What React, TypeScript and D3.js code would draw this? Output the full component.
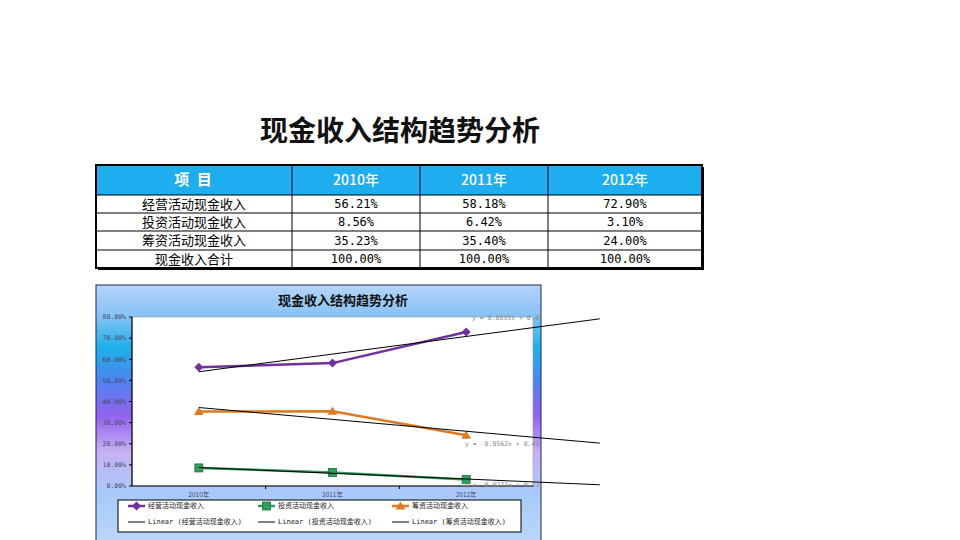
import React from 'react'
import * as d3 from 'd3'

const years = ['2010年', '2011年', '2012年']
const rowNames = ['经营活动现金收入', '投资活动现金收入', '筹资活动现金收入', '现金收入合计']
const operating = [56.21, 58.18, 72.9]
const investing = [8.56, 6.42, 3.1]
const financing = [35.23, 35.4, 24.0]
const totals = [100, 100, 100]
const yTicks = [0, 10, 20, 30, 40, 50, 60, 70, 80]

// trendline coefficients as printed on the chart (x = 1, 2, 3 ...)
const trendSlopes = [0.0835, -0.0273, -0.0562]
const trendIntercepts = [0.4574, 0.1149, 0.4277]
const trendLabels = ['y = 0.0835x + 0.4574', 'y = -0.0273x + 0.1149', 'y = -0.0562x + 0.4277']

const seriesNames = ['经营活动现金收入', '投资活动现金收入', '筹资活动现金收入']
const seriesColors = ['#7030a0', '#2f9e5b', '#dd7a22']

const CJK = '"Noto Sans CJK SC", "DejaVu Sans", sans-serif'
const MONO = '"DejaVu Sans Mono", "Noto Sans CJK SC", monospace'

function Marker({ kind, x, y, color }: { kind: number; x: number; y: number; color: string }) {
  if (kind === 0) {
    const s = 4.5
    return <path d={`M${x},${y - s}L${x + s},${y}L${x},${y + s}L${x - s},${y}Z`} fill={color} />
  }
  if (kind === 1) {
    return <rect x={x - 4} y={y - 4} width={8} height={8} fill={color} stroke="#1f6e3c" strokeWidth={0.8} />
  }
  return <path d={`M${x},${y - 4.5}L${x + 5},${y + 3.5}L${x - 5},${y + 3.5}Z`} fill={color} />
}

function Table() {
  const cols = [96, 292, 420, 548, 702]
  const rows = [165, 195, 213, 231, 250, 268]
  const data = [operating, investing, financing, totals]
  const fmt = (v: number) => v.toFixed(2) + '%'
  return (
    <g>
      <rect x={cols[0] + 2} y={rows[0] + 2} width={cols[4] - cols[0]} height={rows[5] - rows[0]} fill="#000" />
      <rect x={cols[0]} y={rows[0]} width={cols[4] - cols[0]} height={rows[1] - rows[0]} fill="#1eaef0" />
      <rect x={cols[0]} y={rows[1]} width={cols[4] - cols[0]} height={rows[5] - rows[1]} fill="#fff" />
      {rows.slice(1, 5).map((r) => (
        <line key={r} x1={cols[0]} x2={cols[4]} y1={r} y2={r} stroke="#000" strokeWidth={1} />
      ))}
      {cols.slice(1, 4).map((c) => (
        <line key={c} x1={c} x2={c} y1={rows[0]} y2={rows[5]} stroke="#000" strokeWidth={1} />
      ))}
      <rect x={cols[0]} y={rows[0]} width={cols[4] - cols[0]} height={rows[5] - rows[0]} fill="none" stroke="#000" strokeWidth={2} />
      <text x={(cols[0] + cols[1]) / 2} y={(rows[0] + rows[1]) / 2} dy="0.36em" textAnchor="middle" fill="#fff" fontFamily={CJK} fontWeight="bold" fontSize={15} letterSpacing={2}>
        项 目
      </text>
      {years.map((yr, i) => (
        <text key={yr} x={(cols[i + 1] + cols[i + 2]) / 2} y={(rows[0] + rows[1]) / 2} dy="0.36em" textAnchor="middle" fill="#fff" fontFamily={CJK} fontWeight={500} fontSize={14}>
          {yr}
        </text>
      ))}
      {rowNames.map((name, r) => (
        <g key={name}>
          <text x={(cols[0] + cols[1]) / 2} y={(rows[r + 1] + rows[r + 2]) / 2} dy="0.36em" textAnchor="middle" fontFamily={CJK} fontSize={13} fill="#000">
            {name}
          </text>
          {data[r].map((v, i) => (
            <text key={i} x={(cols[i + 1] + cols[i + 2]) / 2} y={(rows[r + 1] + rows[r + 2]) / 2} dy="0.36em" textAnchor="middle" fontFamily={MONO} fontSize={12} fill="#000">
              {fmt(v)}
            </text>
          ))}
        </g>
      ))}
    </g>
  )
}

function Chart() {
  const frame = { x: 96, y: 285, w: 445, h: 262 }
  const plot = { left: 132, right: 533, top: 317, bottom: 486 }
  const x = d3.scaleBand<string>().domain(years).range([plot.left, plot.right])
  const bw = x.bandwidth()
  const cx = (i: number) => (x(years[0]) as number) + bw / 2 + (i - 1) * bw
  const y = d3.scaleLinear().domain([0, 80]).range([plot.bottom, plot.top])
  const all = [operating, investing, financing]
  const line = d3
    .line<number>()
    .x((_, i) => cx(i + 1))
    .y((d) => y(d))
  const trendX = [1, 4]
  const labelPos = [
    { x: 472, y: 318 },
    { x: 465, y: 485 },
    { x: 465, y: 444 },
  ]
  const legendCols = [128, 258, 392]

  return (
    <g>
      <defs>
        <linearGradient id="bg" x1="0" y1="0" x2="0" y2="1">
          <stop offset="0" stopColor="#b4d4fa" />
          <stop offset="0.12" stopColor="#86c2f4" />
          <stop offset="0.24" stopColor="#1cb0e8" />
          <stop offset="0.38" stopColor="#5480f0" />
          <stop offset="0.5" stopColor="#9362ec" />
          <stop offset="0.64" stopColor="#c8b2f4" />
          <stop offset="0.8" stopColor="#a8cafa" />
          <stop offset="1" stopColor="#bcd8fa" />
        </linearGradient>
        <clipPath id="frameClip">
          <rect x={frame.x} y={frame.y} width={frame.w} height={frame.h} />
        </clipPath>
      </defs>
      <rect x={frame.x} y={frame.y} width={frame.w} height={frame.h} fill="url(#bg)" stroke="#1a2a5a" strokeWidth={1} />
      <text x={343} y={300} dy="0.36em" textAnchor="middle" fontFamily={CJK} fontWeight="bold" fontSize={13} fill="#111">
        现金收入结构趋势分析
      </text>
      <rect x={plot.left} y={plot.top} width={plot.right - plot.left} height={plot.bottom - plot.top} fill="#fff" stroke="#999" strokeWidth={0.6} />
      <line x1={plot.left} x2={plot.left} y1={plot.top} y2={plot.bottom} stroke="#000" strokeWidth={1.2} />
      <line x1={plot.left} x2={plot.right} y1={plot.bottom} y2={plot.bottom} stroke="#000" strokeWidth={1.2} />
      {yTicks.map((t) => (
        <g key={t}>
          <line x1={plot.left - 3} x2={plot.left} y1={y(t)} y2={y(t)} stroke="#000" />
          <text x={126} y={y(t)} dy="0.35em" textAnchor="end" fontFamily={MONO} fontSize={6.5} fill="#4a4a6a">
            {t.toFixed(2) + '%'}
          </text>
        </g>
      ))}
      {years.map((yr, i) => (
        <g key={yr}>
          {i > 0 && <line x1={x(yr)} x2={x(yr)} y1={plot.bottom} y2={plot.bottom + 3} stroke="#000" />}
          <text x={cx(i + 1)} y={495} dy="0.35em" textAnchor="middle" fontFamily={CJK} fontSize={6.5} fill="#4a4a6a">
            {yr}
          </text>
        </g>
      ))}
      {all.map((s, k) => (
        <g key={k}>
          <path d={line(s) || ''} fill="none" stroke={seriesColors[k]} strokeWidth={2.5} />
          {s.map((v, i) => (
            <Marker key={i} kind={k} x={cx(i + 1)} y={y(v)} color={seriesColors[k]} />
          ))}
        </g>
      ))}
      {trendSlopes.map((m, k) => {
        const pts = trendX.map((t) => [cx(t), y((m * t + trendIntercepts[k]) * 100)] as [number, number])
        return <path key={k} d={d3.line()(pts) || ''} stroke="#000" strokeWidth={1} fill="none" />
      })}
      <g clipPath="url(#frameClip)">
        {trendLabels.map((l, k) => (
          <text key={l} x={labelPos[k].x} y={labelPos[k].y} dy="0.35em" fontFamily={MONO} fontSize={6.5} fill="#8a8a8a">
            {l}
          </text>
        ))}
      </g>
      <rect x={118} y={500} width={403} height={32} fill="#fff" stroke="#000" strokeWidth={1} />
      {seriesNames.map((n, k) => (
        <g key={n}>
          <line x1={legendCols[k]} x2={legendCols[k] + 17} y1={506} y2={506} stroke={seriesColors[k]} strokeWidth={2.5} />
          <Marker kind={k} x={legendCols[k] + 8.5} y={506} color={seriesColors[k]} />
          <text x={legendCols[k] + 20} y={506} dy="0.35em" fontFamily={CJK} fontSize={7} fill="#222">
            {n}
          </text>
          <line x1={legendCols[k]} x2={legendCols[k] + 17} y1={522} y2={522} stroke="#000" strokeWidth={1} />
          <text x={legendCols[k] + 20} y={522} dy="0.35em" fontFamily={MONO} fontSize={7} fill="#222">
            {'Linear (' + n + ')'}
          </text>
        </g>
      ))}
    </g>
  )
}

export default function App() {
  return (
    <svg width={960} height={540} style={{ position: 'absolute', left: 0, top: 0, background: '#fff' }}>
      <rect width={960} height={540} fill="#fff" />
      <text x={400} y={131} dy="0.36em" textAnchor="middle" fontFamily={CJK} fontWeight="bold" fontSize={28} fill="#111">
        现金收入结构趋势分析
      </text>
      <Table />
      <Chart />
    </svg>
  )
}
